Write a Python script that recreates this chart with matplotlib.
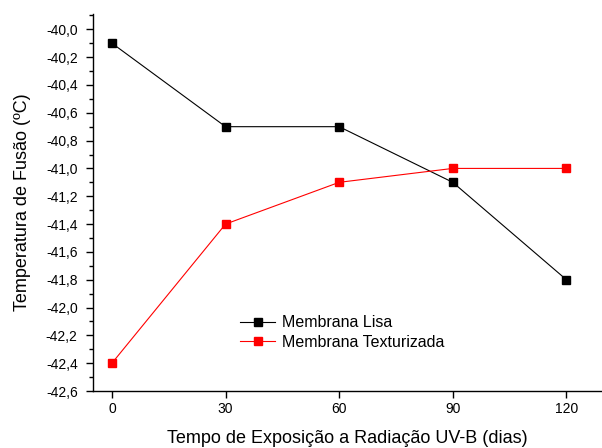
import matplotlib
matplotlib.use("Agg")
import matplotlib.pyplot as plt
from matplotlib.ticker import FuncFormatter, MultipleLocator

plt.rcParams["font.family"] = ["Liberation Sans", "DejaVu Sans"]

dias = [0, 30, 60, 90, 120]
lisa = [-40.1, -40.7, -40.7, -41.1, -41.8]
texturizada = [-42.4, -41.4, -41.1, -41.0, -41.0]

fig = plt.figure(figsize=(6.02, 4.48), dpi=100)
ax = fig.add_axes([93 / 602, 57 / 448, 1 - 93 / 602, 377 / 448])

ax.plot(dias, lisa, color="black", lw=0.8, marker="s", ms=6, label="Membrana Lisa")
ax.plot(dias, texturizada, color="red", lw=0.8, marker="s", ms=6, label="Membrana Texturizada")

ax.set_xlim(-5, 129.4)
ax.set_ylim(-42.6, -39.89)
ax.set_xticks(dias)
ax.yaxis.set_major_locator(MultipleLocator(0.2))
ax.yaxis.set_minor_locator(MultipleLocator(0.1))
ax.yaxis.set_major_formatter(FuncFormatter(lambda v, p: f"{v:.1f}".replace(".", ",")))

for s in ["top", "right"]:
    ax.spines[s].set_visible(False)
for s in ["left", "bottom"]:
    ax.spines[s].set_linewidth(1.0)

ax.tick_params(axis="both", which="major", direction="out", length=5, width=1, labelsize=10, pad=3)
ax.tick_params(axis="y", which="major", pad=6)
ax.tick_params(axis="y", which="minor", direction="out", length=3, width=1)

ax.set_xlabel("Tempo de Exposição a Radiação UV-B (dias)", fontsize=13, labelpad=10)
ax.set_ylabel("Temperatura de Fusão (ºC)", fontsize=13, labelpad=11)

ax.legend(loc="center left", bbox_to_anchor=(0.289, 0.155), frameon=False, fontsize=11.5,
          handlelength=2.2, handletextpad=0.4, labelspacing=0.3, numpoints=1,
          borderpad=0, borderaxespad=0)

fig.savefig("out.png", dpi=100)
